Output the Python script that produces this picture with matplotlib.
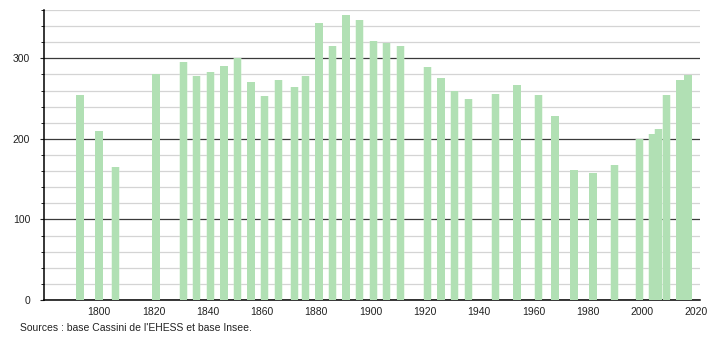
import matplotlib.pyplot as plt
from matplotlib.ticker import MultipleLocator

years = [1793, 1800, 1806, 1821, 1831, 1836, 1841, 1846, 1851, 1856,
         1861, 1866, 1872, 1876, 1881, 1886, 1891, 1896, 1901, 1906,
         1911, 1921, 1926, 1931, 1936, 1946, 1954, 1962, 1968, 1975,
         1982, 1990, 1999, 2004, 2006, 2009, 2014, 2017]
population = [254, 210, 165, 281, 295, 278, 283, 290, 300, 271,
              253, 273, 265, 278, 344, 315, 354, 348, 322, 319,
              315, 289, 276, 259, 250, 256, 267, 254, 229, 161,
              158, 168, 200, 206, 212, 255, 273, 279]
x_ticks = [1800, 1820, 1840, 1860, 1880, 1900, 1920, 1940, 1960, 1980, 2000, 2020]
source = "Sources : base Cassini de l'EHESS et base Insee."

plt.rcParams['font.family'] = ['Liberation Sans', 'DejaVu Sans']

fig = plt.figure(figsize=(7.1, 3.4), dpi=100)
ax = fig.add_axes([0.062, 0.1176, 0.924, 0.853])

# faint halo then the bar itself
ax.bar(years, population, width=3.2, color='#c8ecc8', alpha=0.35, zorder=2)
ax.bar(years, population, width=2.7, color='#b1e0b4', zorder=3)

ax.set_xlim(1779.7, 2021.4)
ax.set_ylim(0, 360)
ax.set_xticks(x_ticks)
ax.yaxis.set_major_locator(MultipleLocator(100))
ax.yaxis.set_minor_locator(MultipleLocator(20))

ax.grid(True, which='minor', axis='y', color='#d4d4d4', linewidth=0.9, zorder=0)
ax.grid(True, which='major', axis='y', color='#3a3a3a', linewidth=0.9, zorder=1)
ax.set_axisbelow(True)

for side in ['top', 'right']:
    ax.spines[side].set_visible(False)
ax.spines['left'].set_linewidth(1.1)
ax.spines['bottom'].set_linewidth(1.1)

ax.tick_params(axis='x', length=0, pad=5, labelsize=7.5, colors='#222222')
ax.tick_params(axis='y', which='major', length=3, pad=7, labelsize=7.5, colors='#222222')
ax.tick_params(axis='y', which='minor', length=2)

fig.text(20 / 710, 1 - 328 / 340, source, fontsize=7.5, color='#222222', va='center')

fig.savefig('out.png', dpi=100)
